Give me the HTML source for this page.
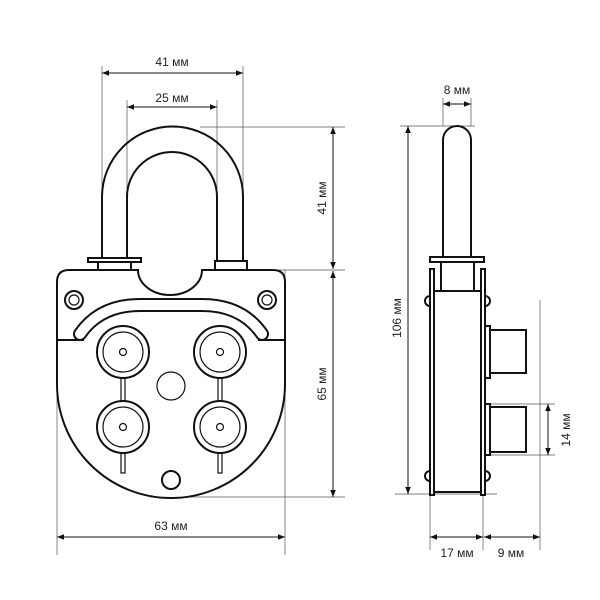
<!DOCTYPE html>
<html><head><style>
html,body{margin:0;padding:0;background:#fff;}
svg{display:block;}
text{font-family:"Liberation Sans",sans-serif;font-size:12px;fill:#222;}
</style></head><body>
<svg width="600" height="600" viewBox="0 0 600 600" xmlns="http://www.w3.org/2000/svg">
<defs>
<marker id="a" viewBox="0 0 10 10" refX="10" refY="5" markerWidth="7" markerHeight="7" orient="auto-start-reverse"><path d="M0,1 L10,5 L0,9 z" fill="#111"/></marker>
</defs>
<g stroke="#555" stroke-width="0.7" fill="none">
<line x1="102" y1="66" x2="102" y2="258"/>
<line x1="243" y1="66" x2="243" y2="258"/>
<line x1="127" y1="100" x2="127" y2="258"/>
<line x1="217" y1="100" x2="217" y2="258"/>
<line x1="200" y1="127" x2="345" y2="127"/>
<line x1="247" y1="270" x2="345" y2="270"/>
<line x1="150" y1="497" x2="345" y2="497"/>
<line x1="57" y1="290" x2="57" y2="555"/>
<line x1="285" y1="270" x2="285" y2="555"/>
<line x1="400" y1="126" x2="475" y2="126"/>
<line x1="395" y1="494" x2="497" y2="494"/>
<line x1="443" y1="98" x2="443" y2="126"/>
<line x1="471" y1="98" x2="471" y2="126"/>
<line x1="490" y1="404" x2="555" y2="404"/>
<line x1="490" y1="455" x2="555" y2="455"/>
<line x1="430" y1="494" x2="430" y2="550"/>
<line x1="483" y1="494" x2="483" y2="550"/>
<line x1="540" y1="300" x2="540" y2="550"/>
</g>
<g stroke="#111" stroke-width="1" fill="none" marker-start="url(#a)" marker-end="url(#a)">
<line x1="102" y1="73" x2="243" y2="73"/>
<line x1="127" y1="107" x2="217" y2="107"/>
<line x1="333" y1="127" x2="333" y2="269"/>
<line x1="333" y1="271" x2="333" y2="497"/>
<line x1="57" y1="537" x2="285" y2="537"/>
<line x1="408" y1="126" x2="408" y2="494"/>
<line x1="443" y1="104" x2="471" y2="104"/>
<line x1="548" y1="404" x2="548" y2="455"/>
<line x1="430" y1="537" x2="483" y2="537"/>
<line x1="484" y1="537" x2="540" y2="537"/>
</g>
<text x="172" y="66" text-anchor="middle">41 мм</text>
<text x="172" y="102" text-anchor="middle">25 мм</text>
<text x="171" y="530" text-anchor="middle">63 мм</text>
<text transform="translate(326,198) rotate(-90)" text-anchor="middle">41 мм</text>
<text transform="translate(326,384) rotate(-90)" text-anchor="middle">65 мм</text>
<text transform="translate(401,318) rotate(-90)" text-anchor="middle">106 мм</text>
<text transform="translate(570,430) rotate(-90)" text-anchor="middle">14 мм</text>
<text x="457" y="94" text-anchor="middle">8 мм</text>
<text x="457" y="557" text-anchor="middle">17 мм</text>
<text x="511" y="557" text-anchor="middle">9 мм</text>
<text x="84" y="377" text-anchor="middle" style="font-size:14px">1</text>
<text x="84" y="409" text-anchor="middle" style="font-size:14px">2</text>
<text x="256" y="375" text-anchor="middle" style="font-size:14px">3</text>
<text x="256" y="408" text-anchor="middle" style="font-size:14px">4</text>
<g stroke="#111" stroke-width="2" fill="#fff">
<path d="M102,258 L102,197 A70.5,70.5 0 0 1 243,197 L243,261 M127,258 L127,197 A45,45 0 0 1 217,197 L217,261" fill="none"/>
<rect x="98" y="262" width="33" height="8"/>
<rect x="88" y="258" width="53" height="4"/>
<rect x="215" y="261" width="32" height="9"/>
<path d="M69,270 L138,270 A32,25 0 0 0 202,270 L273,270 Q285,270 285,282 L285,384 A114,114 0 0 1 57,384 L57,282 Q57,270 69,270 Z"/>
<path d="M57,340 L80,340 M262,340 L285,340" fill="none"/>
<circle cx="74" cy="300" r="9"/><circle cx="74" cy="300" r="5" stroke-width="1.2"/>
<circle cx="267" cy="300" r="9"/><circle cx="267" cy="300" r="5" stroke-width="1.2"/>
<path d="M80,334 Q100,305 140,305 L202,305 Q242,305 262,334" fill="none" stroke-width="14" stroke-linecap="round"/>
<path d="M80,334 Q100,305 140,305 L202,305 Q242,305 262,334" fill="none" stroke="#fff" stroke-width="10" stroke-linecap="round"/>
<path d="M74,340 L84,340 M258,340 L268,340" fill="none"/>
<g stroke-width="1.2">
<rect x="121" y="378" width="4" height="24"/><rect x="121" y="453" width="4" height="20"/>
<rect x="218" y="378" width="4" height="24"/><rect x="218" y="453" width="4" height="20"/>
</g>
<circle cx="123" cy="352" r="26"/><circle cx="123" cy="352" r="20" stroke-width="1.2"/><circle cx="123" cy="352" r="3.5" stroke-width="1.2"/>
<circle cx="220" cy="352" r="26"/><circle cx="220" cy="352" r="20" stroke-width="1.2"/><circle cx="220" cy="352" r="3.5" stroke-width="1.2"/>
<circle cx="123" cy="427" r="26"/><circle cx="123" cy="427" r="20" stroke-width="1.2"/><circle cx="123" cy="427" r="3.5" stroke-width="1.2"/>
<circle cx="220" cy="427" r="26"/><circle cx="220" cy="427" r="20" stroke-width="1.2"/><circle cx="220" cy="427" r="3.5" stroke-width="1.2"/>
<circle cx="171" cy="386" r="14" stroke-width="1.2"/>
<circle cx="171" cy="480" r="9"/>
<path d="M443,258 L443,140 A14,14 0 0 1 471,140 L471,258"/>
<rect x="441" y="262" width="33" height="29"/>
<rect x="430" y="257" width="54" height="5"/>
<circle cx="430" cy="301" r="5"/><circle cx="485" cy="301" r="5"/>
<circle cx="430" cy="476" r="5"/><circle cx="485" cy="476" r="5"/>
<rect x="433" y="291" width="48" height="201"/>
<rect x="430" y="269" width="4" height="226"/>
<rect x="481" y="269" width="4" height="226"/>
<rect x="485" y="326" width="5" height="52"/>
<rect x="490" y="330" width="36" height="43"/>
<rect x="485" y="404" width="5" height="51"/>
<rect x="490" y="407" width="36" height="45"/>
</g>
</svg>
</body></html>
